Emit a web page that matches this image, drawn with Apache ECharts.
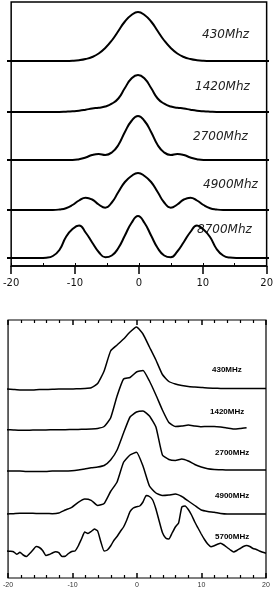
<!DOCTYPE html>
<html><head><meta charset="utf-8">
<script src="https://cdn.jsdelivr.net/npm/echarts@6/dist/echarts.min.js"></script>
<style>html,body{margin:0;padding:0;background:#fff}#c{width:276px;height:593px}</style>
</head><body><div id="c"></div>
<script>
// ---- data (arbitrary intensity units) ----
const xTop = [-20,-19,-18,-17,-16,-15,-14,-13,-12,-11,-10,-9,-8,-7,-6,-5,-4,-3,-2,-1,0,1,2,3,4,5,6,7,8,9,10,11,12,13,14,15,16,17,18,19,20];
const topLabels = ['430Mhz','1420Mhz','2700Mhz','4900Mhz','8700Mhz'];
const t430  = [0,0,0,0,0,0,0,0,0,0, 0.2,0.8,2,4,7.5,13,20.5,30,39.5,46, 49, 46,39.5,30,20.5,13,7.5,4,2,0.8,0.2, 0,0,0,0,0,0,0,0,0,0];
const t1420 = [0,0,0,0,0,0,0,0, 0,0.3,0.7,1.3,2.3,3.5,4.3,5.5,8.3,13.5,24,33.5, 37, 33.5,24,13.5,8.3,5.5,4.3,3.5,2.3,1.3,0.7,0.3,0, 0,0,0,0,0,0,0,0];
const t2700 = [0,0,0,0,0,0,0,0,0,0,0, 0.8,2.5,5,6,5,7.5,15,28,39, 44, 39,28,15,7.5,5,6,5,2.5,0.8, 0,0,0,0,0,0,0,0,0,0,0];
const t4900 = [0,0,0,0,0,0,0,0, 0.5,1.8,5,9.5,12.3,10.5,5.5,2.3,7.5,18,28,34, 37, 34,28,18,7.5,2.3,5.5,10.5,12.3,9.5,5,1.8,0.5, 0,0,0,0,0,0,0,0];
const t8700 = [0,0,0,0,0,0, 0.3,2,8,21,29,32.5,25.5,15.5,6,0.8,2.5,10,22.5,35, 42, 35,22.5,10,2.5,0.8,6.5,16,26,32.5,28.5,21,9,2.5,0.4, 0,0,0,0,0,0];

const xBot = xTop;
const botLabels = ['430MHz','1420MHz','2700MHz','4900MHz','5700MHz'];
const b430  = [0,-0.5,-1,-1,-1,-0.5,-0.5,-0.3,0,0,0,0.3,0.5,1.2,5.5,18,38,44,50,57, 62, 55,42,29,14.5,7.5,5,3.5,2.5,2,1.5,1,0.8,0.6,0.5,0.5,0.5,0.5,0.5,0.5,0.5];
const b1420 = [0.3,0,-0.3,-0.3,0,0,0,0.2,0.3,0.3,0.5,0.6,0.8,1,1.5,3.5,12,34,51,52.5, 58, 59.5,49,35,20,7.5,3.5,4,5,4,3.3,3.5,3.5,3,2,1,1.5,2.3,null,null,null];
const b2700 = [0,0,0,-0.5,-0.5,-0.5,-0.5,0,0,0,0.3,1,2,3.3,4,5.5,11,21,38,54, 59, 60,55,44,16,11.5,10.5,12,10,6.5,4,2.2,1.5,1.3,1,1,1,1,1,1,1];
const b4900 = [0,0.3,0.7,0.7,0.7,0.5,0.5,0.3,1,4,6.7,11.7,15,13.7,8.5,10.5,22.5,32,51.7,59, 61.7, 48,28,21,18.5,19,20,17.5,13,8.5,4,2.5,1.7,0.5,0,0,0,0,0,0,0];
const x5700 = [-20,-19.5,-19,-18.5,-18,-17.5,-17,-16.5,-16,-15.5,-15,-14.5,-14,-13.5,-13,-12.5,-12,-11.5,-11,-10.5,-10,-9.5,-9,-8.5,-8,-7.5,-7,-6.5,-6,-5.5,-5,-4.5,-4,-3.5,-3,-2.5,-2,-1.5,-1,-0.5,0,0.5,1,1.5,2,2.5,3,3.5,4,4.5,5,5.5,6,6.5,7,7.5,8,8.5,9,9.5,10,10.5,11,11.5,12,12.5,13,13.5,14,14.5,15,15.5,16,16.5,17,17.5,18,18.5,19,19.5,20];
const b5700 = [5,4.7,4.3,1.7,3.7,1,-0.5,2.5,6,9.5,
  8.5,5.5,0.5,1.5,3,4.3,3.3,-0.5,-0.3,2.5,
  4.5,5,10,17,24,22.5,24.5,27,25,14,
  5,6,10,15.5,19.5,24.5,29,36,44.3,48,
  49.3,
  50,54,60.5,59.5,56,47,35,23.5,18,17,
  23,29,33,49,50,46.5,41,34,28,22,
  16.5,12,9.3,10.3,11.7,12.7,11,8.5,6,4,
  5.5,7.5,9.5,10.5,9.5,7.5,6.5,5,3.7,2.7];
const axisTicks = [-20,-10,0,10,20];

// ---- layout ----
const topBase = [61,112,160,210,258];
const botBase = [389,430,471,514,556];
const H = 593;

const grids = [], xAxes = [], yAxes = [], series = [];
function addGrid(g){ grids.push(g); return grids.length-1; }

// top frame
let gi = addGrid({left:7,right:7,top:2,height:264,show:true,borderColor:'#000',borderWidth:1.5,backgroundColor:'transparent'});
xAxes.push({gridIndex:gi,type:'value',min:-20,max:20,interval:10,position:'bottom',
  axisLine:{show:true,onZero:false,lineStyle:{color:'#000',width:1.5}},
  axisTick:{show:true,length:8,lineStyle:{color:'#000',width:1.5}},
  axisLabel:{show:true,margin:12,fontSize:10,fontFamily:'DejaVu Sans',color:'#111',
    formatter:v=>axisTicks.includes(v)?String(v):''},
  splitLine:{show:false}});
xAxes.push({gridIndex:gi,type:'value',min:-20,max:20,interval:5,position:'bottom',
  axisLine:{show:false,onZero:false},axisTick:{show:true,inside:true,length:3,lineStyle:{color:'#000',width:1}},
  axisLabel:{show:false},splitLine:{show:false}});
yAxes.push({gridIndex:gi,type:'value',min:0,max:1,show:false});

const topData = [t430,t1420,t2700,t4900,t8700];
topData.forEach((arr,i)=>{
  const g = addGrid({left:7,right:7,bottom:H-topBase[i],height:60});
  xAxes.push({gridIndex:g,type:'value',min:-20,max:20,show:false});
  yAxes.push({gridIndex:g,type:'value',min:0,max:60,show:false});
  series.push({type:'line',name:topLabels[i],xAxisIndex:xAxes.length-1,yAxisIndex:yAxes.length-1,
    data:arr.map((v,k)=>[xTop[k],v]),symbol:'none',smooth:true,clip:false,
    lineStyle:{color:'#000',width:2},z:3});
});

// bottom frame
gi = addGrid({left:7,right:10,top:320,height:258,show:true,borderColor:'#000',borderWidth:1.2,backgroundColor:'transparent'});
xAxes.push({gridIndex:gi,type:'value',min:-20,max:20,interval:10,position:'bottom',
  axisLine:{show:false,onZero:false},
  axisTick:{show:true,inside:true,length:5,lineStyle:{color:'#000',width:1.5}},
  minorTick:{show:true,splitNumber:5,length:3,lineStyle:{color:'#000',width:1.2}},
  axisLabel:{show:true,margin:4,fontSize:7,fontFamily:'Liberation Sans',color:'#333'},
  splitLine:{show:false},minorSplitLine:{show:false}});
xAxes.push({gridIndex:gi,type:'value',min:-20,max:20,interval:10,position:'top',
  axisLine:{show:false,onZero:false},
  axisTick:{show:true,inside:true,length:5,lineStyle:{color:'#000',width:1.5}},
  minorTick:{show:true,splitNumber:5,length:3,lineStyle:{color:'#000',width:1.2}},
  axisLabel:{show:false},splitLine:{show:false},minorSplitLine:{show:false}});
yAxes.push({gridIndex:gi,type:'value',min:0,max:1,show:false});

const botData = [[xBot,b430],[xBot,b1420],[xBot,b2700],[xBot,b4900],[x5700,b5700]];
botData.forEach((pair,i)=>{
  const g = addGrid({left:7,right:10,bottom:H-botBase[i],height:70});
  xAxes.push({gridIndex:g,type:'value',min:-20,max:20,show:false});
  yAxes.push({gridIndex:g,type:'value',min:0,max:70,show:false});
  series.push({type:'line',name:botLabels[i],xAxisIndex:xAxes.length-1,yAxisIndex:yAxes.length-1,
    data:pair[1].map((v,k)=>[pair[0][k],v]),symbol:'none',smooth:0.15,clip:false,connectNulls:false,
    lineStyle:{color:'#000',width:1.5},z:3});
});

// text labels
const topPos = [[202,35],[195,87],[193,137],[203,185],[197,230]];
const botPos = [[212,370],[210,412],[215,453],[215,496],[215,537]];
const graphics = [];
topLabels.forEach((t,i)=>graphics.push({type:'text',x:topPos[i][0],y:topPos[i][1],z:1,
  style:{text:t,fill:'#222',font:'italic 12px "DejaVu Sans"',textVerticalAlign:'middle',verticalAlign:'middle'}}));
botLabels.forEach((t,i)=>graphics.push({type:'text',x:botPos[i][0],y:botPos[i][1],z:1,
  style:{text:t,fill:'#000',font:'bold 8px "Liberation Sans"',textVerticalAlign:'middle',verticalAlign:'middle'}}));

const chart = echarts.init(document.getElementById('c'),null,{renderer:'canvas'});
chart.setOption({animation:false,backgroundColor:'#fff',grid:grids,xAxis:xAxes,yAxis:yAxes,series:series,graphic:graphics});
</script></body></html>
